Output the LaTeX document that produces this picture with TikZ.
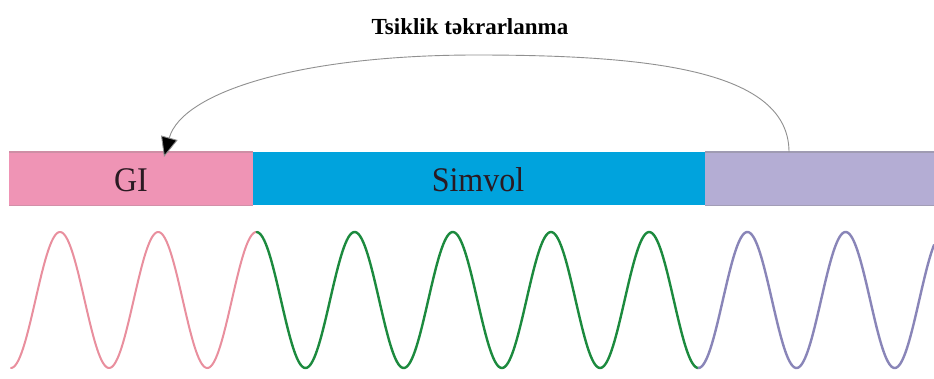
\documentclass[tikz,border=0pt]{standalone}
\usepackage{fontspec}
\setmainfont{Liberation Serif}
\usetikzlibrary{arrows.meta}
\definecolor{gipink}{HTML}{EF94B5}
\definecolor{simblue}{HTML}{00A3DD}
\definecolor{cppurple}{HTML}{B4ADD4}
\definecolor{textdark}{HTML}{2A1A22}
\definecolor{pinkwave}{HTML}{E98F9E}
\definecolor{greenwave}{HTML}{1C8A3E}
\definecolor{purplewave}{HTML}{8985B8}
\definecolor{arcgray}{HTML}{909090}
\begin{document}
\begin{tikzpicture}[x=1pt,y=-1pt]
\tikzset{
  seg/.style={draw=none, minimum height=53pt, inner sep=0pt, anchor=north west,
    text=textdark, font=\fontsize{32}{32}\selectfont},
  seglabel/.style={text=textdark, font=\fontsize{32}{32}\selectfont, yscale=1.08},
  topedge/.style={draw=#1, line width=1.4pt},
  wave/.style={line width=2.4pt, line cap=round, draw=#1},
  arc/.style={draw=arcgray, line width=0.9pt, -{Triangle[length=20pt,width=17pt,fill=black]}},
  titletext/.style={font=\bfseries\fontsize{23}{23}\selectfont, text=black}
}
\useasboundingbox (0,0) rectangle (934,378);
\fill[white] (0,0) rectangle (934,378);
% bar
\node[seg, fill=gipink, minimum width=244pt] (gi) at (9,152) {};
\node[seg, fill=simblue, minimum width=452pt] (sym) at (253,152) {};
\node[seg, fill=cppurple, minimum width=229pt] (cp) at (705,152) {};
\node[seglabel] (gilabel) at (131,180) {GI};
\node[seglabel] (symlabel) at (478,180) {Simvol};
\draw[topedge=gipink!70!gray] (gi.north west) -- (gi.north east);
\draw[topedge=cppurple!60!gray] (cp.north west) -- (cp.north east);
\draw[draw=gipink!75!gray, line width=1pt] (gi.south west) -- (gi.south east);
\draw[draw=cppurple!65!gray, line width=1pt] (cp.south west) -- (cp.south east);
% title
\node[titletext] (title) at (470,27) {Tsiklik təkrarlanma};
% arc arrow
\coordinate (start) at (789,152);
\coordinate (top) at (476,55);
\coordinate (tip) at (164,157);
\draw[arc] (start) .. controls (789,70) and (650,55) .. (top)
  .. controls (300,55) and (182,92) .. (tip);
% waves
\draw[wave=pinkwave, line width=2pt] plot[domain=11:256.7, samples=200, variable=\t]
  (\t, {300-68*cos((\t-60)/98.2*360)});
\draw[wave=greenwave] plot[domain=256.7:698.6, samples=300, variable=\t]
  (\t, {300-68*cos((\t-60)/98.2*360)});
\draw[wave=purplewave] plot[domain=698.6:934, samples=200, variable=\t]
  (\t, {300-68*cos((\t-60)/98.2*360)});
\end{tikzpicture}
\end{document}
